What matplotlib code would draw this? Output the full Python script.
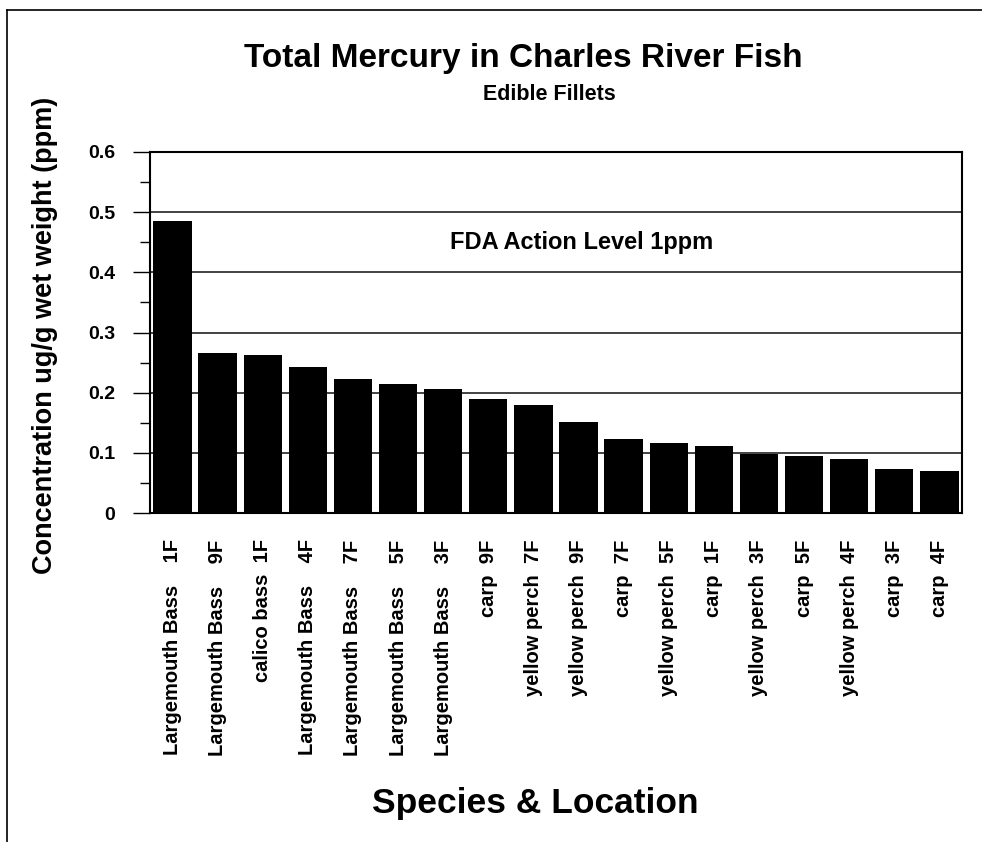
import matplotlib
matplotlib.use("Agg")
import matplotlib.pyplot as plt
from matplotlib.ticker import MultipleLocator
from matplotlib.lines import Line2D

plt.rcParams["font.family"] = ["Liberation Sans", "DejaVu Sans"]
plt.rcParams["font.weight"] = "bold"

species = [
    "Largemouth Bass    1F", "Largemouth Bass    9F", "calico bass  1F",
    "Largemouth Bass    4F", "Largemouth Bass    7F", "Largemouth Bass    5F",
    "Largemouth Bass    3F", "carp  9F", "yellow perch  7F", "yellow perch  9F",
    "carp  7F", "yellow perch  5F", "carp  1F", "yellow perch  3F",
    "carp  5F", "yellow perch  4F", "carp  3F", "carp  4F",
]
mercury_ppm = [
    0.485, 0.266, 0.262, 0.243, 0.222, 0.215, 0.206, 0.190, 0.180,
    0.152, 0.123, 0.116, 0.111, 0.098, 0.095, 0.089, 0.073, 0.070,
]
y_ticks = [0, 0.1, 0.2, 0.3, 0.4, 0.5, 0.6]
y_tick_labels = ["0", "0.1", "0.2", "0.3", "0.4", "0.5", "0.6"]

fig = plt.figure(figsize=(9.82, 8.42), dpi=100)
ax = fig.add_axes([0.1527, 0.3907, 0.8269, 0.4288])

x = list(range(len(species)))
ax.bar(x, mercury_ppm, width=0.85, color="black", zorder=3)

ax.set_xlim(-0.5, len(species) - 0.5)
ax.set_ylim(0, 0.6)
ax.set_yticks(y_ticks)
ax.set_yticklabels(y_tick_labels, fontsize=14, fontweight="bold")
ax.yaxis.set_minor_locator(MultipleLocator(0.05))
ax.tick_params(axis="y", which="major", direction="out", length=12, width=1, pad=13)
ax.tick_params(axis="y", which="minor", direction="out", length=7, width=1)
ax.grid(axis="y", which="major", color="#222222", linewidth=1.2, zorder=1)

ax.set_xticks(x)
ax.set_xticklabels(species, rotation=90, fontsize=14.5, fontweight="bold", va="top")
ax.tick_params(axis="x", length=0, pad=19)

for s in ax.spines.values():
    s.set_linewidth(1.5)
    s.set_color("black")

ax.text(9.08, 0.449, "FDA Action Level 1ppm", ha="center", va="center",
        fontsize=17, fontweight="bold")

fig.text(0.533, 0.930, "Total Mercury in Charles River Fish", ha="center",
         va="center", fontsize=24, fontweight="bold")
fig.text(0.559, 0.888, "Edible Fillets", ha="center", va="center",
         fontsize=15.5, fontweight="bold")
fig.text(0.046, 0.602, "Concentration ug/g wet weight (ppm)", rotation=90,
         ha="center", va="center", fontsize=19.5, fontweight="bold")
fig.text(0.545, 0.046, "Species & Location", ha="center", va="center",
         fontsize=25.5, fontweight="bold")

# outer frame lines (top and left only)
fig.add_artist(Line2D([0.007, 1.0], [0.988, 0.988], color="black", linewidth=1.2,
                      transform=fig.transFigure))
fig.add_artist(Line2D([0.007, 0.007], [0.0, 0.988], color="black", linewidth=1.2,
                      transform=fig.transFigure))

fig.savefig("out.png", dpi=100)
